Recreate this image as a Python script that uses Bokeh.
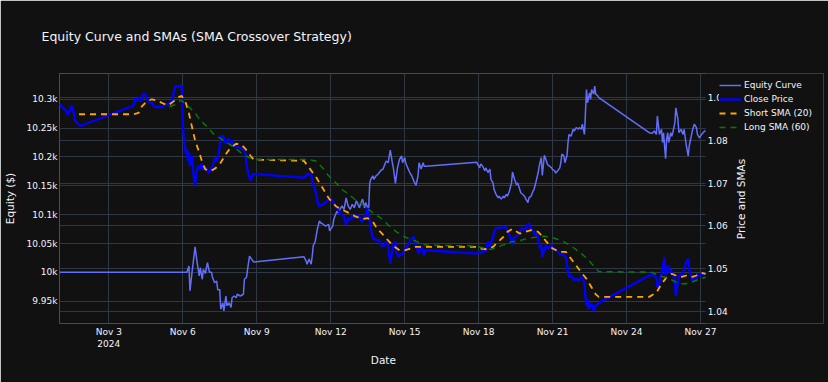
import math
import pandas as pd
from bokeh.plotting import figure
from bokeh.models import (Range1d, LinearAxis, Grid, FixedTicker, SingleIntervalTicker,
                          CustomJSTickFormatter, NumeralTickFormatter, DatetimeTickFormatter,
                          Legend, LegendItem, BoxAnnotation, Label, Title)
from bokeh.embed import file_html
from bokeh.resources import INLINE

TITLE = "Equity Curve and SMAs (SMA Crossover Strategy)"
X_LABEL = "Date"
Y_LABEL = "Equity ($)"
Y2_LABEL = "Price and SMAs"
START = "2024-11-01 00:00"  # hourly bars; the *_hours lists are hours after START

equity_hours = [0, 124, 126, 127, 129, 132, 134, 136, 137, 139,
                140, 142, 144, 146, 148, 149, 151, 153, 154, 156,
                157, 159, 160, 162, 163, 165, 167, 168, 170, 172,
                173, 176, 179, 180, 182, 184, 185, 187, 189, 238,
                240, 241, 243, 245, 246, 247, 249, 251, 253, 254,
                257, 259, 262, 263, 266, 267, 270, 271, 273, 275,
                277, 279, 281, 283, 285, 287, 289, 292, 293, 295,
                297, 298, 300, 301, 302, 303, 305, 306, 308, 310,
                313, 315, 316, 318, 320, 322, 324, 325, 327, 329,
                331, 333, 334, 336, 337, 339, 341, 343, 345, 347,
                349, 350, 352, 354, 355, 357, 406, 409, 410, 412,
                414, 415, 417, 419, 420, 422, 423, 425, 427, 428,
                430, 432, 433, 435, 436, 438, 440, 441, 443, 445,
                446, 448, 449, 451, 453, 454, 456, 457, 459, 461,
                462, 464, 466, 467, 469, 470, 472, 474, 475, 477,
                479, 480, 482, 483, 485, 487, 488, 489, 491, 492,
                494, 495, 496, 498, 500, 501, 503, 505, 506, 508,
                509, 511, 512, 513, 514, 516, 517, 518, 520, 521,
                522, 524, 525, 574, 577, 579, 581, 582, 584, 586,
                587, 588, 590, 591, 592, 593, 595, 596, 597, 599,
                600, 602, 603, 605, 607, 608, 610, 612, 613, 615,
                616, 618, 620, 621, 623, 625, 628, 629]
equity_values = [10000, 10000, 10011, 9968, 10000, 10044, 10017, 9994, 10008, 9988,
                 10005, 9998, 10017, 10000, 10000, 9991, 9982, 9985, 9970, 9970,
                 9936, 9947, 9933, 9959, 9942, 9947, 9939, 9956, 9959, 9956,
                 9962, 9959, 9962, 9988, 9991, 10017, 10028, 10023, 10018, 10027,
                 10020, 10014, 10023, 10014, 10028, 10046, 10054, 10075, 10089, 10086,
                 10083, 10080, 10083, 10072, 10080, 10092, 10106, 10103, 10109, 10115,
                 10109, 10129, 10115, 10109, 10118, 10112, 10124, 10112, 10118, 10127,
                 10112, 10121, 10112, 10112, 10155, 10161, 10167, 10161, 10167, 10170,
                 10177, 10179, 10184, 10193, 10190, 10212, 10190, 10181, 10154, 10181,
                 10196, 10202, 10190, 10199, 10190, 10181, 10173, 10167, 10158, 10151,
                 10167, 10190, 10179, 10190, 10184, 10184, 10191, 10181, 10188, 10184,
                 10176, 10181, 10173, 10179, 10161, 10155, 10144, 10135, 10129, 10132,
                 10127, 10132, 10129, 10135, 10132, 10141, 10155, 10174, 10161, 10152,
                 10155, 10144, 10138, 10135, 10131, 10127, 10121, 10129, 10132, 10141,
                 10144, 10158, 10173, 10184, 10199, 10168, 10203, 10193, 10187, 10184,
                 10181, 10178, 10176, 10172, 10176, 10181, 10190, 10205, 10202, 10190,
                 10202, 10225, 10239, 10236, 10248, 10245, 10251, 10248, 10251, 10248,
                 10257, 10239, 10277, 10317, 10294, 10311, 10300, 10317, 10309, 10323,
                 10309, 10306, 10303, 10242, 10241, 10245, 10239, 10271, 10239, 10248,
                 10225, 10242, 10197, 10231, 10242, 10225, 10242, 10236, 10242, 10259,
                 10285, 10265, 10242, 10248, 10239, 10248, 10222, 10202, 10219, 10236,
                 10245, 10257, 10251, 10239, 10233, 10239, 10245, 10245]

close_hours = [0, 2, 6, 8, 11, 12, 14, 15, 19, 21,
               70, 72, 74, 76, 77, 79, 80, 82, 84, 85,
               87, 88, 90, 92, 95, 98, 101, 102, 105, 107,
               110, 111, 113, 115, 118, 119, 120, 121, 123, 124,
               125, 126, 127, 129, 130, 132, 133, 135, 137, 138,
               140, 143, 145, 147, 149, 150, 152, 153, 155, 157,
               159, 160, 162, 164, 165, 167, 168, 170, 173, 177,
               179, 181, 182, 184, 186, 188, 189, 238, 240, 241,
               243, 245, 246, 248, 250, 251, 253, 256, 259, 261,
               263, 266, 268, 271, 273, 275, 277, 279, 281, 283,
               285, 287, 289, 292, 294, 296, 298, 300, 301, 303,
               305, 308, 311, 313, 315, 316, 318, 320, 321, 322,
               324, 325, 327, 328, 330, 332, 333, 335, 336, 338,
               341, 343, 345, 346, 348, 350, 351, 353, 355, 356,
               357, 406, 409, 410, 412, 414, 415, 417, 419, 420,
               422, 423, 425, 427, 430, 432, 435, 437, 439, 441,
               442, 444, 446, 447, 449, 450, 452, 454, 455, 457,
               458, 460, 462, 463, 465, 466, 468, 469, 470, 472,
               474, 475, 477, 479, 480, 482, 483, 485, 487, 488,
               490, 492, 493, 495, 496, 498, 500, 501, 503, 505,
               506, 508, 509, 511, 512, 513, 514, 515, 516, 517,
               518, 520, 521, 522, 524, 525, 574, 577, 581, 582,
               584, 586, 587, 589, 590, 591, 593, 594, 595, 597,
               599, 600, 602, 603, 605, 607, 608, 610, 612, 613,
               615, 616, 618, 620, 621, 623, 625, 629]
close_values = [1.0885, 1.0879, 1.0871, 1.0859, 1.0875, 1.0882, 1.0863, 1.0847, 1.0836, 1.0834,
                1.0879, 1.0882, 1.0898, 1.0894, 1.0901, 1.0891, 1.0894, 1.0910, 1.0906, 1.0898,
                1.0891, 1.0887, 1.0888, 1.0879, 1.0877, 1.0879, 1.0877, 1.0885, 1.0882, 1.0887,
                1.0894, 1.0910, 1.0927, 1.0926, 1.0927, 1.0927, 1.0839, 1.0808, 1.0768, 1.0780,
                1.0752, 1.0772, 1.0740, 1.0764, 1.0728, 1.0693, 1.0721, 1.0740, 1.0732, 1.0744,
                1.0732, 1.0736, 1.0722, 1.0732, 1.0740, 1.0748, 1.0760, 1.0752, 1.0768, 1.0808,
                1.0811, 1.0804, 1.0792, 1.0804, 1.0800, 1.0792, 1.0800, 1.0788, 1.0784, 1.0782,
                1.0780, 1.0768, 1.0744, 1.0721, 1.0706, 1.0721, 1.0721, 1.0713, 1.0717, 1.0721,
                1.0722, 1.0721, 1.0705, 1.0689, 1.0673, 1.0657, 1.0646, 1.0650, 1.0654, 1.0659,
                1.0665, 1.0657, 1.0650, 1.0638, 1.0630, 1.0626, 1.0622, 1.0602, 1.0618, 1.0614,
                1.0622, 1.0618, 1.0626, 1.0622, 1.0610, 1.0614, 1.0626, 1.0642, 1.0626, 1.0594,
                1.0571, 1.0567, 1.0567, 1.0555, 1.0551, 1.0555, 1.0563, 1.0555, 1.0531, 1.0511,
                1.0543, 1.0555, 1.0563, 1.0539, 1.0527, 1.0535, 1.0531, 1.0539, 1.0547, 1.0551,
                1.0563, 1.0571, 1.0574, 1.0563, 1.0547, 1.0535, 1.0555, 1.0547, 1.0531, 1.0543,
                1.0543, 1.0535, 1.0539, 1.0535, 1.0543, 1.0539, 1.0543, 1.0563, 1.0551, 1.0563,
                1.0571, 1.0586, 1.0594, 1.0596, 1.0594, 1.0598, 1.0596, 1.0586, 1.0571, 1.0555,
                1.0571, 1.0574, 1.0578, 1.0582, 1.0590, 1.0596, 1.0590, 1.0594, 1.0602, 1.0606,
                1.0598, 1.0590, 1.0586, 1.0578, 1.0582, 1.0567, 1.0547, 1.0555, 1.0527, 1.0547,
                1.0555, 1.0547, 1.0551, 1.0555, 1.0551, 1.0547, 1.0543, 1.0539, 1.0535, 1.0531,
                1.0535, 1.0527, 1.0527, 1.0491, 1.0480, 1.0484, 1.0476, 1.0472, 1.0476, 1.0472,
                1.0474, 1.0480, 1.0476, 1.0468, 1.0432, 1.0413, 1.0428, 1.0405, 1.0420, 1.0409,
                1.0417, 1.0401, 1.0413, 1.0413, 1.0417, 1.0420, 1.0484, 1.0485, 1.0480, 1.0456,
                1.0468, 1.0491, 1.0499, 1.0527, 1.0484, 1.0499, 1.0507, 1.0491, 1.0499, 1.0484,
                1.0476, 1.0436, 1.0468, 1.0484, 1.0484, 1.0491, 1.0499, 1.0515, 1.0523, 1.0499,
                1.0484, 1.0472, 1.0480, 1.0476, 1.0488, 1.0484, 1.0488, 1.0488]

short_sma_hours = [19, 72, 77, 80, 85, 90, 95, 102, 106, 111,
                   116, 119, 123, 126, 129, 132, 136, 139, 142, 147,
                   152, 157, 162, 167, 172, 177, 181, 186, 189, 238,
                   243, 250, 256, 262, 269, 275, 282, 288, 295, 300,
                   305, 309, 314, 318, 324, 331, 336, 342, 347, 354,
                   357, 406, 410, 417, 422, 427, 432, 436, 441, 448,
                   453, 459, 466, 469, 474, 480, 487, 493, 498, 503,
                   508, 513, 518, 522, 525, 574, 581, 586, 591, 596,
                   600, 605, 610, 615, 620, 625, 629]
short_sma_values = [1.0861, 1.0861, 1.0864, 1.0879, 1.0891, 1.0896, 1.0893, 1.0885, 1.0882, 1.0891,
                    1.0901, 1.0904, 1.0887, 1.0863, 1.0831, 1.0800, 1.0772, 1.0748, 1.0732, 1.0728,
                    1.0735, 1.0748, 1.0768, 1.0784, 1.0792, 1.0790, 1.0780, 1.0764, 1.0755, 1.0752,
                    1.0736, 1.0713, 1.0689, 1.0665, 1.0646, 1.0638, 1.0630, 1.0622, 1.0616, 1.0618,
                    1.0610, 1.0594, 1.0582, 1.0571, 1.0555, 1.0543, 1.0543, 1.0547, 1.0551, 1.0551,
                    1.0551, 1.0551, 1.0547, 1.0545, 1.0551, 1.0563, 1.0574, 1.0586, 1.0593, 1.0582,
                    1.0586, 1.0590, 1.0586, 1.0578, 1.0563, 1.0547, 1.0539, 1.0539, 1.0523, 1.0507,
                    1.0491, 1.0476, 1.0456, 1.0440, 1.0434, 1.0434, 1.0444, 1.0464, 1.0480, 1.0488,
                    1.0484, 1.0480, 1.0484, 1.0480, 1.0484, 1.0490, 1.0488]

long_sma_hours = [107, 111, 116, 119, 124, 131, 137, 144, 150, 157,
                  162, 170, 178, 185, 189, 238, 243, 250, 256, 262,
                  269, 275, 282, 288, 295, 301, 308, 314, 320, 328,
                  336, 344, 352, 357, 406, 414, 420, 427, 433, 440,
                  446, 453, 459, 466, 472, 482, 490, 498, 506, 514,
                  521, 525, 574, 577, 582, 589, 596, 602, 608, 615,
                  621, 629]
long_sma_values = [1.0879, 1.0882, 1.0891, 1.0893, 1.0882, 1.0867, 1.0847, 1.0831, 1.0815, 1.0804,
                   1.0796, 1.0784, 1.0768, 1.0759, 1.0755, 1.0755, 1.0755, 1.0751, 1.0736, 1.0717,
                   1.0701, 1.0685, 1.0673, 1.0661, 1.0650, 1.0638, 1.0626, 1.0616, 1.0602, 1.0586,
                   1.0574, 1.0567, 1.0559, 1.0555, 1.0553, 1.0547, 1.0545, 1.0551, 1.0556, 1.0563,
                   1.0564, 1.0569, 1.0572, 1.0574, 1.0576, 1.0571, 1.0564, 1.0553, 1.0539, 1.0523,
                   1.0503, 1.0493, 1.0492, 1.0491, 1.0485, 1.0480, 1.0474, 1.0466, 1.0464, 1.0468,
                   1.0474, 1.0480]

x_tick_dates = ["2024-11-03", "2024-11-06", "2024-11-09", "2024-11-12", "2024-11-15",
                "2024-11-18", "2024-11-21", "2024-11-24", "2024-11-27"]
equity_tick_step = 50
price_tick_step = 0.01

assert len(equity_hours) == len(equity_values)
assert len(close_hours) == len(close_values)
assert len(short_sma_hours) == len(short_sma_values)
assert len(long_sma_hours) == len(long_sma_values)

# ---------------- layout / style (page pixels) ----------------
PAGE_W, PAGE_H = 828, 382
FRAME_L, FRAME_T, FRAME_B = 58, 73, 323
DATA_R = 705            # right edge of the visible plotting area
FRAME_R = 823           # frame runs on so the outside legend is not clipped
RIGHT_RULE = 727        # x of the right axis rule (labels drawn back to 707)
RIGHT_LABEL_X = 707
BG = "#111111"
GRID = "#2e3844"
TXT = "#f2f5fa"
FONT = "DejaVu Sans"

t0 = pd.Timestamp(START)


def to_times(hours):
    return (t0 + pd.to_timedelta(hours, unit="h")).to_numpy()


def to_ms(ts):
    return pd.Timestamp(ts).value / 1e6


def padded(vals):
    lo, hi = min(vals), max(vals)
    pad = (hi - lo) / 18.0
    return lo - pad, hi + pad


all_hours = equity_hours + close_hours + short_sma_hours + long_sma_hours
x_start = to_ms(t0 + pd.Timedelta(hours=min(all_hours)))
x_end = to_ms(t0 + pd.Timedelta(hours=max(all_hours)))
ms_per_px = (x_end - x_start) / (DATA_R - FRAME_L)
x_range = Range1d(x_start, x_start + ms_per_px * (FRAME_R - FRAME_L))

eq_lo, eq_hi = padded(equity_values)
pr_lo, pr_hi = padded(close_values + short_sma_values + long_sma_values)

p = figure(width=PAGE_W, height=PAGE_H, x_axis_type="datetime",
           x_range=x_range, y_range=Range1d(eq_lo, eq_hi),
           output_backend="svg", toolbar_location=None,
           min_border_left=FRAME_L, min_border_right=PAGE_W - FRAME_R,
           min_border_top=FRAME_T, min_border_bottom=PAGE_H - FRAME_B,
           background_fill_color=BG, border_fill_color=BG)
p.outline_line_color = None
p.extra_y_ranges = {"price": Range1d(pr_lo, pr_hi)}

p.title.text = TITLE
p.title.text_font = FONT
p.title.text_font_size = "12.5px"
p.title.text_font_style = "normal"
p.title.text_color = TXT
p.title.align = "left"
p.title.vertical_align = "top"
p.title.offset = -18
p.title.standoff = 56

# x axis
xaxis = p.xaxis[0]
xaxis.ticker = FixedTicker(ticks=[to_ms(d) for d in x_tick_dates])
xaxis.formatter = DatetimeTickFormatter(days="%b %-d", context="%Y", context_which="start")
xaxis.major_label_standoff = 3
p.xgrid.ticker = xaxis.ticker
p.add_layout(Title(text=X_LABEL, align="left", offset=311.3, standoff=0,
                   vertical_align="bottom", text_font=FONT, text_font_size="10.5px",
                   text_font_style="normal", text_color=TXT), "below")

# left y axis
yaxis = p.yaxis[0]
yaxis.ticker = SingleIntervalTicker(interval=equity_tick_step, num_minor_ticks=0)
yaxis.formatter = CustomJSTickFormatter(code="return (tick / 1000) + 'k';")
yaxis.axis_label = Y_LABEL
yaxis.major_label_standoff = 2
yaxis.axis_label_standoff = 8
p.ygrid.ticker = yaxis.ticker

# right y axis, pinned where the visible plot area ends
rticker = SingleIntervalTicker(interval=price_tick_step, num_minor_ticks=0)
raxis = LinearAxis(y_range_name="price", ticker=rticker,
                   formatter=NumeralTickFormatter(format="0.00"),
                   fixed_location=x_start + ms_per_px * (RIGHT_RULE - FRAME_L))
raxis.major_label_standoff = RIGHT_LABEL_X - RIGHT_RULE
p.add_layout(raxis, "right")
p.add_layout(Grid(dimension=1, ticker=rticker, y_range_name="price",
                  grid_line_color=GRID, grid_line_width=1))

p.xgrid.grid_line_color = GRID
p.ygrid.grid_line_color = GRID

for ax in (xaxis, yaxis, raxis):
    ax.axis_line_color = None
    ax.major_tick_line_color = None
    ax.minor_tick_line_color = None
    ax.major_tick_in = 0
    ax.major_tick_out = 0
    ax.major_label_text_font = FONT
    ax.major_label_text_font_size = "9px"
    ax.major_label_text_color = TXT
    ax.axis_label_text_font = FONT
    ax.axis_label_text_font_size = "10.5px"
    ax.axis_label_text_font_style = "normal"
    ax.axis_label_text_color = TXT

# blank out the grid beyond the end of the data (legend / right-axis area)
p.add_layout(BoxAnnotation(left=x_end, right=x_range.end, bottom=eq_lo, top=eq_hi,
                           fill_color=BG, fill_alpha=1.0, line_color=None, level="underlay"))

r_eq = p.line(to_times(equity_hours), equity_values, line_color="#636efa", line_width=1.5)
r_close = p.line(to_times(close_hours), close_values, y_range_name="price",
                 line_color="#0000ff", line_width=2.3)
r_short = p.line(to_times(short_sma_hours), short_sma_values, y_range_name="price",
                 line_color="#ffa500", line_width=1.8, line_dash="6 5")
r_long = p.line(to_times(long_sma_hours), long_sma_values, y_range_name="price",
                line_color="#008000", line_width=1.4, line_dash="6 5")

p.add_layout(Label(x=739 - FRAME_L, y=FRAME_B - 198.5, x_units="screen", y_units="screen",
                   text=Y2_LABEL, angle=math.pi / 2, text_align="center",
                   text_baseline="middle", text_font=FONT, text_font_size="10.5px",
                   text_color=TXT))

legend = Legend(items=[LegendItem(label="Equity Curve", renderers=[r_eq]),
                       LegendItem(label="Close Price", renderers=[r_close]),
                       LegendItem(label="Short SMA (20)", renderers=[r_short]),
                       LegendItem(label="Long SMA (60)", renderers=[r_long])],
                location=(718 - FRAME_L, FRAME_B - 132.7), orientation="vertical",
                padding=4, margin=0, spacing=2,
                glyph_width=22, glyph_height=12, label_height=12, label_standoff=3,
                label_text_font=FONT, label_text_font_size="9px", label_text_color=TXT,
                background_fill_color=BG, background_fill_alpha=1.0,
                border_line_color=None)
p.add_layout(legend)

open("out.html", "w").write(file_html(p, INLINE))
